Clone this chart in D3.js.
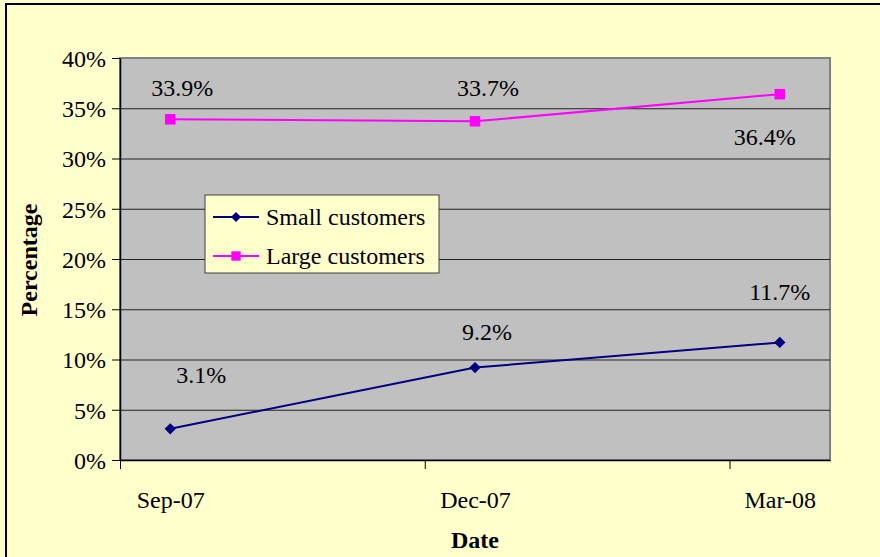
<!DOCTYPE html>
<html lang="en">
<head>
<meta charset="utf-8">
<style type="text/css">
    body { margin: 0; background: #FFFFCC; }
    text { font-family: "Liberation Serif", "Times New Roman", serif; fill: #000; }
    .grid line { stroke: #222; stroke-width: 1px; }
    .axis path, .axis line { stroke: #000; }
</style>
</head>
<body>
<script src="https://cdn.jsdelivr.net/npm/d3@7"></script>
<script type="text/javascript">
    // chart values
    var dates = ["2007-09-16", "2007-12-16", "2008-03-16"];
    var small = [3.1, 9.2, 11.7];
    var large = [33.9, 33.7, 36.4];
    var yTicks = [0, 5, 10, 15, 20, 25, 30, 35, 40];
    var monthTicks = ["2007-09-01", "2007-12-01", "2008-03-01"];

    // hand placed label offsets (dx, dy from point), as in the original
    var smallLabelOff = [[31, -46], [12, -28], [0, -42]];
    var largeLabelOff = [[12, -23], [13, -25], [-15, 51]];

    var width = 880, height = 557;
    var FONT = "'Liberation Serif', 'Times New Roman', serif";
    var parse = d3.timeParse("%Y-%m-%d");
    var plotL = 120, plotR = 830, plotT = 58, plotB = 460;

    var svg = d3.select("body").append("svg")
        .attr("width", width)
        .attr("height", height)
        .attr("font-family", FONT)
        .style("display", "block");

    // chart area background + border
    svg.append("rect")
        .attr("width", width).attr("height", height).attr("fill", "#FFFFCC");
    svg.append("rect")
        .attr("x", 6).attr("y", 4).attr("width", width + 10).attr("height", height + 10)
        .attr("fill", "none").attr("stroke", "#000").attr("stroke-width", 2);

    var x = d3.scaleTime()
        .domain([parse("2007-09-01"), parse("2008-03-31")])
        .range([plotL, plotR]);
    var y = d3.scaleLinear().domain([0, 40]).range([plotB, plotT]);

    // plot area
    svg.append("rect")
        .attr("x", plotL).attr("y", plotT)
        .attr("width", plotR - plotL).attr("height", plotB - plotT)
        .attr("fill", "#C0C0C0")
        .attr("stroke", "#808080").attr("stroke-width", 2);

    // gridlines
    svg.append("g").attr("class", "grid")
        .selectAll("line")
        .data(yTicks.slice(1, -1))
        .enter().append("line")
        .attr("x1", plotL).attr("x2", plotR)
        .attr("y1", function (d) { return y(d) + 0.5; })
        .attr("y2", function (d) { return y(d) + 0.5; });

    // y axis
    var yAxis = svg.append("g").attr("class", "axis")
        .attr("transform", "translate(" + plotL + ",0)")
        .call(d3.axisLeft(y).tickValues(yTicks).tickSize(8).tickSizeOuter(0).tickPadding(6)
            .tickFormat(function (d) { return d + "%"; }));
    yAxis.attr("font-family", FONT).attr("font-size", 24);
    yAxis.selectAll("text").attr("dy", "0.35em");
    yAxis.select(".domain").attr("stroke-width", 1.5);

    // x axis: ticks at month starts, labels at data dates
    var xAxis = svg.append("g").attr("class", "axis")
        .attr("transform", "translate(0," + plotB + ")")
        .call(d3.axisBottom(x).tickValues(monthTicks.map(parse)).tickSize(9).tickSizeOuter(0).tickFormat(""));
    xAxis.select(".domain").attr("stroke-width", 1.5);

    var xLabels = svg.append("g")
        .attr("transform", "translate(0," + plotB + ")")
        .call(d3.axisBottom(x).tickValues(dates.map(parse)).tickSize(0)
            .tickFormat(d3.timeFormat("%b-%y")));
    xLabels.attr("font-family", FONT).attr("font-size", 24);
    xLabels.select(".domain").remove();
    xLabels.selectAll("text").attr("y", 48).attr("dy", 0);

    // axis titles
    svg.append("text")
        .attr("x", 475).attr("y", 548)
        .attr("text-anchor", "middle")
        .attr("font-size", 24).attr("font-weight", "bold")
        .text("Date");
    svg.append("text")
        .attr("transform", "translate(37,260) rotate(-90)")
        .attr("text-anchor", "middle")
        .attr("font-size", 24).attr("font-weight", "bold")
        .text("Percentage");

    // diamond = square turned 45deg
    var series = [
        { name: "Small customers", values: small, color: "#000080", rot: 45, size: 64, off: smallLabelOff },
        { name: "Large customers", values: large, color: "#FF00FF", rot: 0, size: 110, off: largeLabelOff }
    ];

    var line = d3.line()
        .x(function (d) { return x(d.date); })
        .y(function (d) { return y(d.value); });

    series.forEach(function (s) {
        var pts = s.values.map(function (v, i) { return { date: parse(dates[i]), value: v, off: s.off[i] }; });
        var g = svg.append("g");
        g.append("path")
            .datum(pts)
            .attr("d", line)
            .attr("fill", "none")
            .attr("stroke", s.color)
            .attr("stroke-width", 2);
        g.selectAll(".mark")
            .data(pts)
            .enter().append("path")
            .attr("d", d3.symbol().type(d3.symbolSquare).size(s.size))
            .attr("transform", function (d) { return "translate(" + x(d.date) + "," + y(d.value) + ") rotate(" + s.rot + ")"; })
            .attr("fill", s.color);
        g.selectAll(".lbl")
            .data(pts)
            .enter().append("text")
            .attr("x", function (d) { return x(d.date) + d.off[0]; })
            .attr("y", function (d) { return y(d.value) + d.off[1]; })
            .attr("text-anchor", "middle")
            .attr("font-size", 24)
            .text(function (d) { return d.value.toFixed(1) + "%"; });
    });

    // legend
    var legend = svg.append("g").attr("transform", "translate(205,195)");
    legend.append("rect")
        .attr("width", 234).attr("height", 78)
        .attr("fill", "#FFFFCC").attr("stroke", "#404040").attr("stroke-width", 1);
    series.forEach(function (s, i) {
        var ly = 22 + i * 39;
        legend.append("line")
            .attr("x1", 8).attr("x2", 54).attr("y1", ly).attr("y2", ly)
            .attr("stroke", s.color).attr("stroke-width", 2);
        legend.append("path")
            .attr("d", d3.symbol().type(d3.symbolSquare).size(s.size * 0.8))
            .attr("transform", "translate(31," + ly + ") rotate(" + s.rot + ")")
            .attr("fill", s.color);
        legend.append("text")
            .attr("x", 61).attr("y", ly + 8)
            .attr("font-size", 24)
            .text(s.name);
    });
</script>
</body>
</html>
